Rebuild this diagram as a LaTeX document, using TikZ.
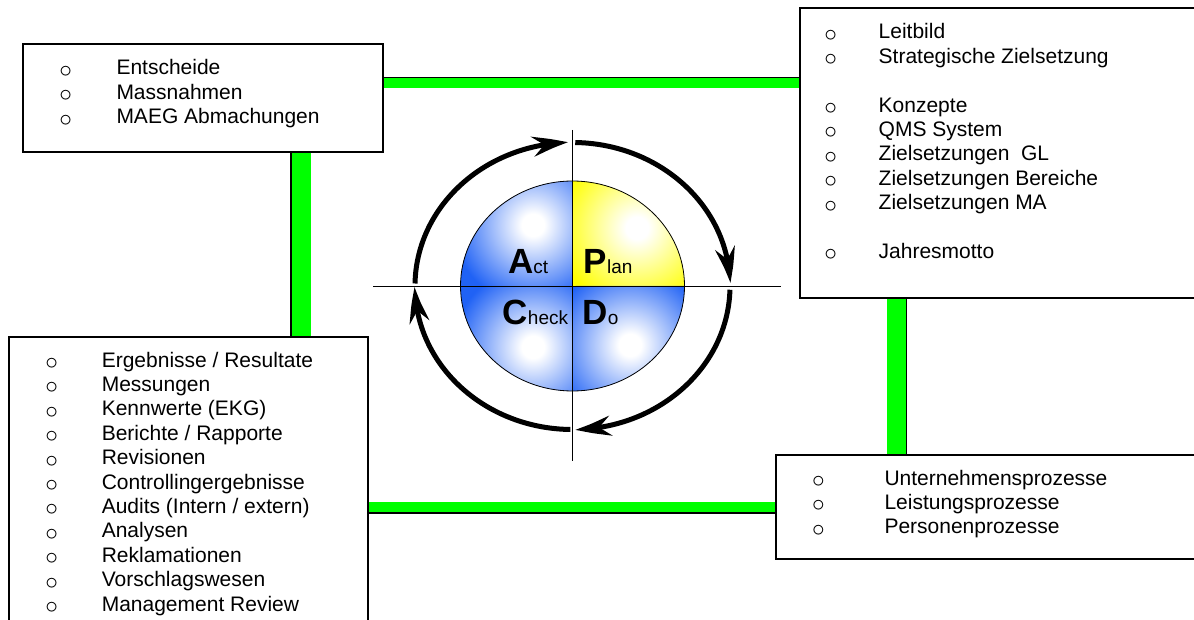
\documentclass[tikz,border=0pt]{standalone}
\usepackage{fontspec}
\setmainfont{Liberation Sans}
\usetikzlibrary{arrows.meta,bending}
\definecolor{qblue}{RGB}{32,98,245}
\definecolor{qyellow}{RGB}{255,255,0}
\definecolor{bargreen}{RGB}{0,255,0}
\pgfdeclareradialshading{blueq}{\pgfpoint{0bp}{0bp}}{color(0bp)=(white); color(3.5bp)=(white); color(25bp)=(qblue); color(50bp)=(qblue)}
\pgfdeclareradialshading{yellowq}{\pgfpoint{0bp}{0bp}}{color(0bp)=(white); color(3.5bp)=(white); color(25bp)=(qyellow); color(50bp)=(qyellow)}
\newcommand\bul{\raisebox{-2.4pt}{\scalebox{1.22}{$\circ$}}}
\newcommand\bitem[2]{\makebox[#1][l]{\bul}#2}
\newcommand\pdca[2]{{\fontsize{35}{35}\selectfont\bfseries #1}{\fontsize{19}{19}\selectfont #2}}
\begin{document}
\begin{tikzpicture}[x=1pt,y=-1pt,
  box/.style={draw=black, line width=1.6pt, fill=white, inner sep=0pt},
  txt/.style={inner sep=0pt, anchor=base west, font=\fontsize{21}{24.4}\selectfont},
  pdcatxt/.style={inner sep=0pt, anchor=base west},
  gbar/.style={draw=bargreen, line cap=butt},
  bedge/.style={draw=black, line width=1.6pt},
  axisline/.style={draw=black, line width=0.8pt},
  cyc/.style={draw=black, line width=5pt, -{Stealth[length=36pt,width=20pt,inset=12pt,bend]}}]
\useasboundingbox (0,0) rectangle (1194,620);
\clip (0,0) rectangle (1194,620);

% boxes (positions)
\coordinate (tlc) at (203,98);
\coordinate (trc) at (1000,153);
\coordinate (blc) at (188.5,488.5);
\coordinate (brc) at (988,507);

% connector guide coordinates
\coordinate (hbt) at (0,83.25);
\coordinate (hbtk) at (0,77.7);
\coordinate (vbl) at (301.5,0);
\coordinate (vblk) at (291,0);
\coordinate (vbr) at (896.25,0);
\coordinate (vbrk) at (906.5,0);
\coordinate (hbb) at (0,507);
\coordinate (hbbk) at (0,512.8);

% box nodes
\node[box, minimum width=360pt, minimum height=108pt] (tl) at (tlc) {};
\node[box, minimum width=400pt, minimum height=290pt] (tr) at (trc) {};
\node[box, minimum width=359pt, minimum height=303pt] (bl) at (blc) {};
\node[box, minimum width=424pt, minimum height=104pt] (br) at (brc) {};

% green connectors
\draw[gbar, line width=9.5pt] (tl.east |- hbt) -- (tr.west |- hbt);
\draw[bedge] (tl.east |- hbtk) -- (tr.west |- hbtk);
\draw[gbar, line width=19pt] (tl.south -| vbl) -- (bl.north -| vbl);
\draw[bedge] (tl.south -| vblk) -- (bl.north -| vblk);
\draw[gbar, line width=18.5pt] (tr.south -| vbr) -- (br.north -| vbr);
\draw[bedge] (tr.south -| vbrk) -- (br.north -| vbrk);
\draw[gbar, line width=10pt] (bl.east |- hbb) -- (br.west |- hbb);
\draw[bedge] (bl.east |- hbbk) -- (br.west |- hbbk);

% box texts
\node[txt] (tltext) at (59.2,75) {\begin{tabular}[t]{@{}l@{}}
\bitem{57.1pt}{Entscheide}\\
\bitem{57.1pt}{Massnahmen}\\
\bitem{57.1pt}{MAEG Abmachungen}
\end{tabular}};
\node[txt] (trtext) at (824.2,39) {\begin{tabular}[t]{@{}l@{}}
\bitem{54.3pt}{Leitbild}\\
\bitem{54.3pt}{Strategische Zielsetzung}\\
\\
\bitem{54.3pt}{Konzepte}\\
\bitem{54.3pt}{QMS System}\\
\bitem{54.3pt}{Zielsetzungen\ \ GL}\\
\bitem{54.3pt}{Zielsetzungen Bereiche}\\
\bitem{54.3pt}{Zielsetzungen MA}\\
\\
\bitem{54.3pt}{Jahresmotto}
\end{tabular}};
\node[txt] (bltext) at (45.2,367) {\begin{tabular}[t]{@{}l@{}}
\bitem{56.4pt}{Ergebnisse / Resultate}\\
\bitem{56.4pt}{Messungen}\\
\bitem{56.4pt}{Kennwerte (EKG)}\\
\bitem{56.4pt}{Berichte / Rapporte}\\
\bitem{56.4pt}{Revisionen}\\
\bitem{56.4pt}{Controllingergebnisse}\\
\bitem{56.4pt}{Audits (Intern / extern)}\\
\bitem{56.4pt}{Analysen}\\
\bitem{56.4pt}{Reklamationen}\\
\bitem{56.4pt}{Vorschlagswesen}\\
\bitem{56.4pt}{Management Review}
\end{tabular}};
\node[txt] (brtext) at (811.8,485) {\begin{tabular}[t]{@{}l@{}}
\bitem{72.5pt}{Unternehmensprozesse}\\
\bitem{72.5pt}{Leistungsprozesse}\\
\bitem{72.5pt}{Personenprozesse}
\end{tabular}};

% PDCA circle
\coordinate (c) at (572.5,286);
\begin{scope}
\clip (c) -- ++(112,0) arc[start angle=0, end angle=-90, x radius=112, y radius=105] -- cycle;
\fill[qyellow] (c) rectangle ++(112,-105);
\shade[shading=yellowq] (637,228) circle[radius=80];
\end{scope}
\begin{scope}
\clip (c) -- ++(0,-105) arc[start angle=-90, end angle=-180, x radius=112, y radius=105] -- cycle;
\fill[qblue] (c) rectangle ++(-112,-105);
\shade[shading=blueq] (533,225) circle[radius=80];
\end{scope}
\begin{scope}
\clip (c) -- ++(-112,0) arc[start angle=180, end angle=90, x radius=112, y radius=105] -- cycle;
\fill[qblue] (c) rectangle ++(-112,105);
\shade[shading=blueq] (533,347) circle[radius=80];
\end{scope}
\begin{scope}
\clip (c) -- ++(0,105) arc[start angle=90, end angle=0, x radius=112, y radius=105] -- cycle;
\fill[qblue] (c) rectangle ++(112,105);
\shade[shading=blueq] (630,345) circle[radius=80];
\end{scope}
\draw[line width=0.8pt] (c) ellipse[x radius=112, y radius=105];

\coordinate (axl) at (373,286);
\coordinate (axr) at (781,286);
\coordinate (axt) at (572.5,130);
\coordinate (axb) at (572.5,461);
\draw[axisline] (axl) -- (axr);
\draw[axisline] (axt) -- (axb);

\node[pdcatxt] (act) at (508,274) {\pdca{A}{ct}};
\node[pdcatxt] (plan) at (583.5,274) {\pdca{P}{lan}};
\node[pdcatxt] (check) at (502.5,325) {\pdca{C}{heck}};
\node[pdcatxt] (do) at (582.5,325) {\pdca{D}{o}};

% cycle arrows
\draw[cyc] (c) ++(181:157.5 and 143.5) arc[start angle=181, end angle=268.4, x radius=157.5, y radius=143.5];
\draw[cyc] (c) ++(271:157.5 and 143.5) arc[start angle=271, end angle=358.8, x radius=157.5, y radius=143.5];
\draw[cyc] (c) ++(1.5:157.5 and 143.5) arc[start angle=1.5, end angle=89, x radius=157.5, y radius=143.5];
\draw[cyc] (c) ++(90.8:157.5 and 143.5) arc[start angle=90.8, end angle=179.6, x radius=157.5, y radius=143.5];
\end{tikzpicture}
\end{document}
